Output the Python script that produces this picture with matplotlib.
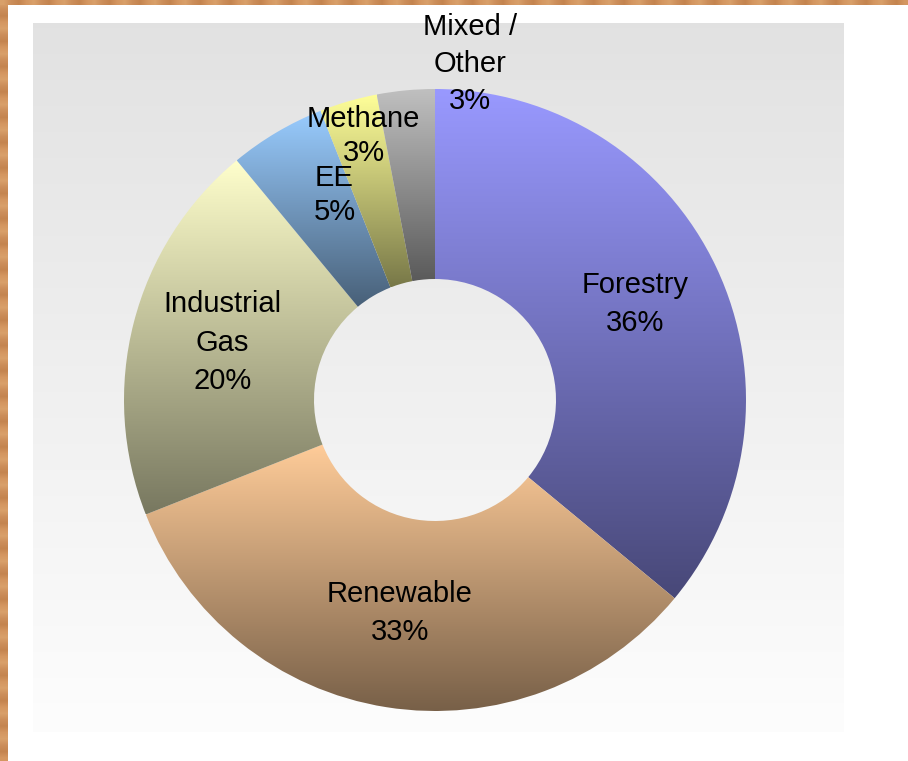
import numpy as np
import matplotlib
matplotlib.use("Agg")
import matplotlib.pyplot as plt
from matplotlib.colors import to_rgb

# дані діаграми
categories = ['Forestry', 'Renewable', 'Industrial\nGas', 'EE', 'Methane', 'Mixed /\nOther']
shares = [36, 33, 20, 5, 3, 3]
top_colors = ['#9999FF', '#FFCC99', '#FFFFCC', '#99CCFF', '#FFFF99', '#C0C0C0']
# зміщення підписів відносно центру (в радіусах) та міжрядковий інтервал
label_offsets = [(0.642, 0.31), (-0.113, -0.684), (-0.684, 0.184),
                 (-0.323, 0.658), (-0.229, 0.848), (0.113, 1.08)]
label_spacing = [1.45, 1.45, 1.48, 1.28, 1.28, 1.42]

W, H = 908, 761
cx, cy = 435, H - 400          # центр кільця
R, r_in = 311, 121             # зовнішній та внутрішній радіуси

plt.rcParams['font.family'] = ['Liberation Sans', 'DejaVu Sans']

fig = plt.figure(figsize=(W / 100, H / 100), dpi=100)
ax = fig.add_axes([0, 0, 1, 1])
ax.axis('off')

# дерев'яна рамка зліва та зверху
wood = np.array([to_rgb(c) for c in ['#D9A06A', '#CC8E5A', '#E0A872', '#C4844F', '#D49660', '#DCA26C']])
stripe = wood[(np.arange(120) * 3 // 2) % 6][:, None, :]
ax.imshow(stripe, extent=(0, 8, 0, H), aspect='auto', interpolation='bilinear', zorder=0)
ax.imshow(np.transpose(stripe, (1, 0, 2)), extent=(0, W, H - 5, H), aspect='auto',
          interpolation='bilinear', zorder=0)

# сіра панель з градієнтом
panel = np.linspace(0.886, 0.992, 100)[:, None, None] * np.ones((1, 1, 3))
ax.imshow(panel, extent=(33, 844, H - 732, H - 23), aspect='auto', interpolation='bilinear', zorder=1)

wedges, _ = ax.pie(shares, center=(cx, cy), radius=R, startangle=90, counterclock=False,
                   wedgeprops=dict(width=R - r_in, linewidth=0))

for w, c in zip(wedges, top_colors):
    top = np.array(to_rgb(c))
    bb = w.get_path().get_extents()
    t = np.linspace(0, 1, 200)[:, None]
    grad = (top * (1 - t) + top * 0.47 * t)[:, None, :]
    im = ax.imshow(grad, extent=(bb.x0, bb.x1, bb.y0, bb.y1), aspect='auto',
                   interpolation='bilinear', zorder=3)
    im.set_clip_path(w)
    w.set_facecolor('none')
    w.set_edgecolor('none')

for name, v, (dx, dy), ls in zip(categories, shares, label_offsets, label_spacing):
    ax.text(cx + dx * R, cy + dy * R, f'{name}\n{v}%', ha='center', va='center',
            fontsize=21, color='black', linespacing=ls, zorder=5)

ax.set_xlim(0, W)
ax.set_ylim(0, H)
fig.savefig('out.png', dpi=100, facecolor='white')
